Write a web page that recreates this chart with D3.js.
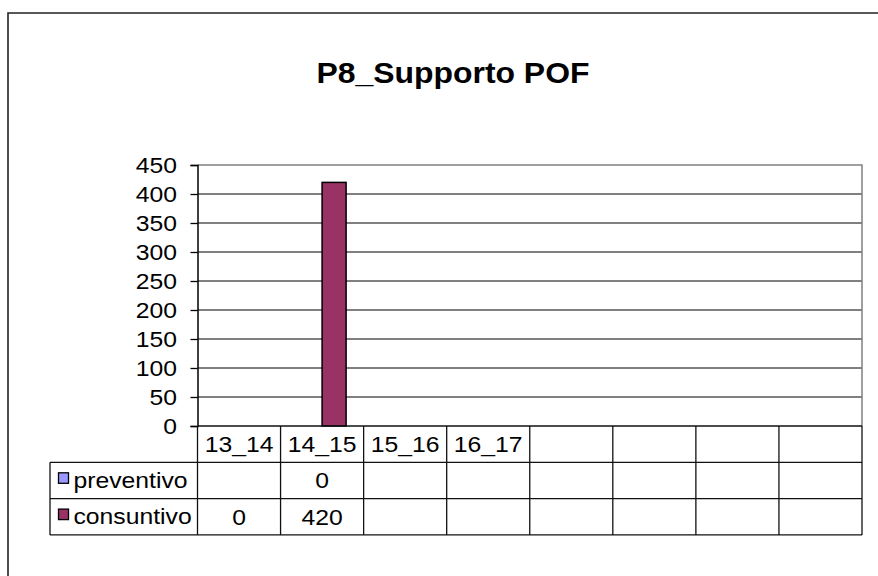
<!DOCTYPE html>
<html>
<head>
<meta charset="utf-8">
<script src="https://cdn.jsdelivr.net/npm/d3@7"></script>
<style>
  html, body { margin: 0; padding: 0; background: #fff; overflow: hidden; }
  svg { display: block; font-family: "Liberation Sans", Arial, sans-serif; }
</style>
</head>
<body>
<svg id="chart" width="878" height="576"></svg>
<script>
// chart data
var title = 'P8_Supporto POF';
var categories = ['13_14', '14_15', '15_16', '16_17', '', '', '', ''];
var seriesNames = ['preventivo', 'consuntivo'];
var preventivo = [null, 0, null, null, null, null, null, null];
var consuntivo = [0, 420, null, null, null, null, null, null];
var yTicks = [0, 50, 100, 150, 200, 250, 300, 350, 400, 450];
var seriesColors = ['#9999FF', '#993366'];

var svg = d3.select('#chart');
var plot = { left: 197.5, right: 862, top: 165, bottom: 426 };
var rowH = 36.3;
var legendLeft = 50;
var sx = 1.15; // text in the picture is a bit wider than tall

// text helper: puts a text in a scaled group so it gets stretched sideways
function addText(parent, x, y, str, size, anchor, weight) {
  var g = parent.append('g')
    .attr('transform', 'translate(' + x + ',' + y + ') scale(' + sx + ',1)');
  g.append('text')
    .attr('text-anchor', anchor)
    .style('font-size', size + 'px')
    .style('font-weight', weight || 'normal')
    .style('fill', '#000')
    .text(str);
  return g;
}

// chart area border (runs off the page on right and bottom)
svg.append('path')
  .attr('d', 'M8,700V13H2000')
  .style('fill', 'none')
  .style('stroke', '#222')
  .style('stroke-width', 1.6);

// title
var tg = addText(svg, 453, 83, title, 29, 'middle', 'bold');
tg.attr('transform', 'translate(453,83) scale(1.1,1)');

var x = d3.scaleBand()
  .domain(d3.range(categories.length))
  .range([plot.left, plot.right]);

var xs = d3.scaleBand()
  .domain(seriesNames)
  .range([0, x.bandwidth()])
  .paddingOuter(0.73);

var y = d3.scaleLinear()
  .domain([0, 450])
  .range([plot.bottom, plot.top]);

// gridlines
svg.append('g')
  .selectAll('line')
  .data(yTicks.filter(d => d > 0 && d < 450))
  .enter().append('line')
  .attr('x1', plot.left).attr('x2', plot.right)
  .attr('y1', d => y(d)).attr('y2', d => y(d))
  .style('stroke', '#000')
  .style('stroke-width', 1);

// plot border top / right (gray)
svg.append('path')
  .attr('d', 'M' + plot.left + ',' + y(450) + 'H' + plot.right + 'V' + plot.bottom)
  .style('fill', 'none')
  .style('stroke', '#808080')
  .style('stroke-width', 1.5);

// bars
var barData = [];
categories.forEach(function(c, i) {
  [preventivo, consuntivo].forEach(function(arr, s) {
    if (arr[i] != null && arr[i] > 0)
      barData.push({ i: i, s: seriesNames[s], v: arr[i], color: seriesColors[s] });
  });
});
svg.append('g')
  .selectAll('rect')
  .data(barData)
  .enter().append('rect')
  .attr('x', d => x(d.i) + xs(d.s))
  .attr('y', d => y(d.v))
  .attr('width', xs.bandwidth())
  .attr('height', d => y(0) - y(d.v))
  .style('fill', d => d.color)
  .style('stroke', '#000')
  .style('stroke-width', 1.5);

// y axis
var yAxis = svg.append('g')
  .attr('transform', 'translate(' + plot.left + ',0)')
  .call(d3.axisLeft(y).tickValues(yTicks).tickSize(7).tickPadding(0).tickFormat(''));
yAxis.select('.domain').style('stroke', '#000').style('stroke-width', 1.5);
yAxis.selectAll('.tick line').style('stroke', '#000').style('stroke-width', 1.3);
yTicks.forEach(function(t) {
  addText(svg, 177, y(t) + 8, String(t), 21.5, 'end');
});

// data table
var table = svg.append('g');
var rows = [plot.bottom, plot.bottom + rowH, plot.bottom + 2 * rowH, plot.bottom + 3 * rowH];
var lineStyle = function(sel) {
  sel.style('stroke', '#111').style('stroke-width', 1.3).style('fill', 'none');
};
// horizontal lines
table.append('line').attr('x1', plot.left).attr('x2', plot.right)
  .attr('y1', rows[0]).attr('y2', rows[0]).call(lineStyle);
[1, 2, 3].forEach(function(r) {
  table.append('line').attr('x1', legendLeft).attr('x2', plot.right)
    .attr('y1', rows[r]).attr('y2', rows[r]).call(lineStyle);
});
// vertical lines
d3.range(categories.length + 1).forEach(function(i) {
  var xx = i < categories.length ? x(i) : plot.right;
  table.append('line').attr('x1', xx).attr('x2', xx)
    .attr('y1', rows[0]).attr('y2', rows[3]).call(lineStyle);
});
table.append('line').attr('x1', legendLeft).attr('x2', legendLeft)
  .attr('y1', rows[1]).attr('y2', rows[3]).call(lineStyle);

// category labels
categories.forEach(function(c, i) {
  if (c) addText(table, x(i) + x.bandwidth() / 2, rows[0] + 26, c, 21.5, 'middle');
});

// series rows
[preventivo, consuntivo].forEach(function(arr, s) {
  var top = rows[s + 1];
  table.append('rect')
    .attr('x', 58.5).attr('y', top + 10.5)
    .attr('width', 10).attr('height', 10.5)
    .style('fill', seriesColors[s])
    .style('stroke', '#000')
    .style('stroke-width', 1.3);
  addText(table, 73.5, top + 25.5, seriesNames[s], 21.5, 'start');
  arr.forEach(function(v, i) {
    if (v != null) addText(table, x(i) + x.bandwidth() / 2, top + 26, String(v), 21.5, 'middle');
  });
});
</script>
</body>
</html>
